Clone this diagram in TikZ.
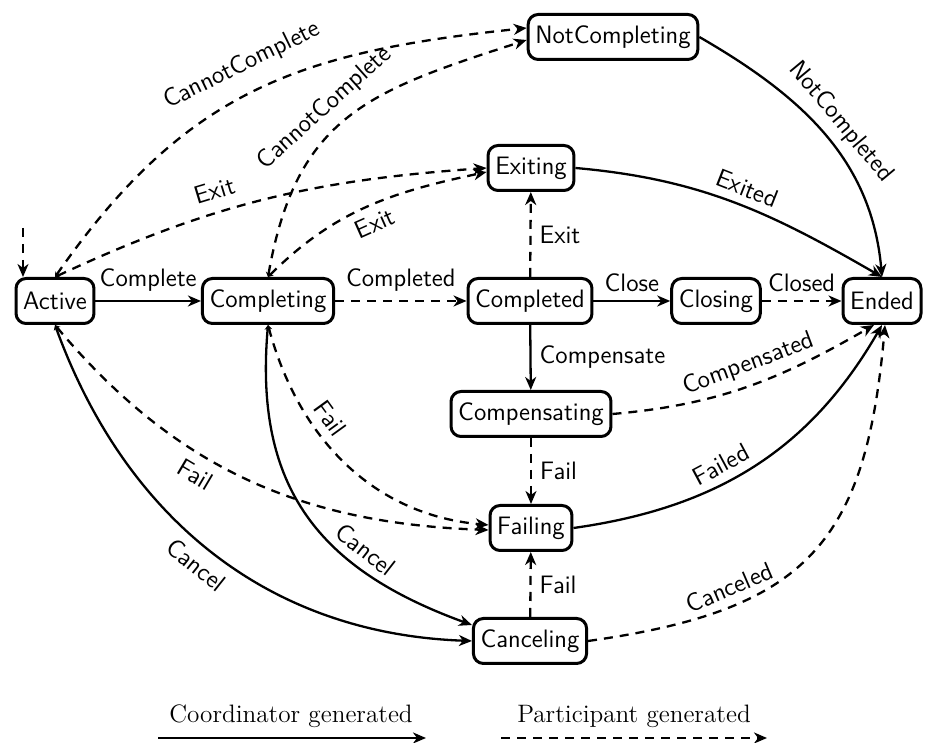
\documentclass[tikz,border=0pt]{standalone}
\usetikzlibrary{arrows.meta,calc}
\begin{document}
\begin{tikzpicture}[x=0.5pt,y=0.5pt,
  every node/.style={font=\fontsize{12.6}{14}\selectfont\sffamily},
  state/.style={draw, line width=1.5pt, rounded corners=5pt, inner xsep=3.6pt, inner ysep=0pt, minimum height=22.5pt},
  cg/.style={line width=1.15pt, -{Stealth[length=6.5pt,width=5.5pt,inset=2pt]}},
  pg/.style={cg, dash pattern=on 4.5pt off 3.5pt},
  tailtip/.style={{Stealth[length=2.5pt,width=3pt,inset=0.8pt]}-{Stealth[length=6.5pt,width=5.5pt,inset=2pt]}},
  lab/.style={inner sep=4pt}]
\useasboundingbox (0,0) rectangle (927,743);

% states
\node[state] (Active) at (55,442) {Active};
\node[state] (Completing) at (268,442) {Completing};
\node[state] (Completed) at (530,442) {Completed};
\node[state] (Closing) at (716,442) {Closing};
\node[state] (Ended) at (882,442) {Ended};
\node[state] (NotCompleting) at (613,706) {NotCompleting};
\node[state] (Exiting) at (531,575) {Exiting};
\node[state] (Compensating) at (531,329) {Compensating};
\node[state] (Failing) at (531,215) {Failing};
\node[state] (Canceling) at (530,102) {Canceling};

% initial
\coordinate (init) at (23,515);
\draw[pg] (init) -- (init |- Active.north);

% straight transitions
\draw[cg] (Active) -- node[lab,above] {Complete} (Completing);
\draw[pg] (Completing) -- node[lab,above] {Completed} (Completed);
\draw[cg] (Completed) -- node[lab,above] {Close} (Closing);
\draw[pg] (Closing) -- node[lab,above] {Closed} (Ended);
\draw[pg] (Completed) -- node[lab,right] {Exit} (Exiting);
\draw[cg] (Completed) -- node[lab,right] {Compensate} (Compensating);
\draw[pg] (Compensating) -- node[lab,right] {Fail} (Failing);
\draw[pg] (Canceling) -- node[lab,right] {Fail} (Failing);

% upper curves
\draw[pg,tailtip] (Active.north) to[out=55,in=186,looseness=1.1]
  node[lab,above=4pt,sloped,pos=0.5] {CannotComplete} ($(NotCompleting.west)+(0,9)$);
\draw[pg,tailtip] (Completing.north) to[out=80,in=198,looseness=1.2]
  node[lab,above=1pt,sloped,pos=0.46] {CannotComplete} ($(NotCompleting.west)+(0,-3)$);
\draw[pg,tailtip] (Active.north) to[out=25,in=184]
  node[lab,above=2pt,sloped,pos=0.39] {Exit} (Exiting.west);
\draw[pg,tailtip] (Completing.north) to[out=45,in=192]
  node[lab,below,sloped,pos=0.5] {Exit} ($(Exiting.west)+(0,-4)$);
\draw[cg] (Exiting.east) to[out=-5,in=150]
  node[lab,above,sloped,pos=0.52] {Exited} (Ended.north);
\draw[cg] (NotCompleting.east) to[out=-30,in=95]
  node[lab,above,sloped,pos=0.5] {NotCompleted} (Ended.north);

% lower right curves
\draw[pg] (Compensating.east) to[out=5,in=210]
  node[lab,above,sloped,pos=0.53] {Compensated} ($(Ended.south)+(-8,0)$);
\draw[cg] (Failing.east) to[out=8,in=240]
  node[lab,above,sloped,pos=0.42] {Failed} (Ended.south);
\draw[pg] (Canceling.east) to[out=8,in=265,looseness=1.3]
  node[lab,above,sloped,pos=0.28] {Canceled} ($(Ended.south)+(3,0)$);

% lower left curves
\draw[pg,tailtip] (Completing.south) to[out=-75,in=175]
  node[lab,above,sloped,pos=0.35] {Fail} ($(Failing.west)+(0,3)$);
\draw[pg,tailtip] (Active.south) to[out=-50,in=178]
  node[lab,below=1pt,sloped,pos=0.4] {Fail} ($(Failing.west)+(0,-2)$);
\draw[cg,tailtip] (Active.south) to[out=-70,in=178]
  node[lab,below=1pt,sloped,pos=0.49] {Cancel} (Canceling.west);
\draw[cg,tailtip] (Completing.south) to[out=-95,in=160,looseness=1.15]
  node[lab,above,sloped,pos=0.69] {Cancel} ($(Canceling.west)+(0,16)$);

% legend
\coordinate (l1s) at (158,5);
\coordinate (l1e) at (426,5);
\coordinate (l2s) at (501,5);
\coordinate (l2e) at (767,5);
\draw[cg] (l1s) -- (l1e);
\draw[pg] (l2s) -- (l2e);
\node[font=\fontsize{12.6}{14}\selectfont\rmfamily, anchor=base] (leg1) at (291,20) {Coordinator generated};
\node[font=\fontsize{12.6}{14}\selectfont\rmfamily, anchor=base] (leg2) at (634,20) {Participant generated};
\end{tikzpicture}
\end{document}
